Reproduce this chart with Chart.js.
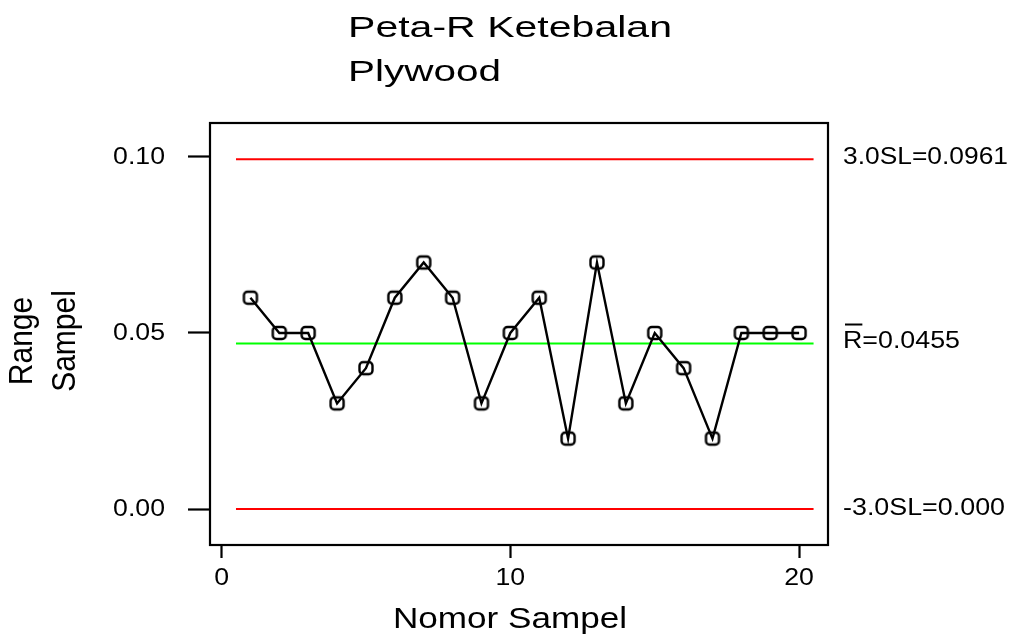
<!DOCTYPE html>
<html>
<head>
<meta charset="utf-8">
<script src="https://cdn.jsdelivr.net/npm/chart.js@4"></script>
<style>
  body { margin: 0; background: #fff; }
  canvas { display: block; }
</style>
</head>
<body>
<canvas id="rChart" width="1015" height="637"></canvas>
<script>
// data
const sampleNo = [1, 2, 3, 4, 5, 6, 7, 8, 9, 10, 11, 12, 13, 14, 15, 16, 17, 18, 19, 20];
const rangeValues = [0.06, 0.05, 0.05, 0.03, 0.04, 0.06, 0.07, 0.06, 0.03, 0.05,
                     0.06, 0.02, 0.07, 0.03, 0.05, 0.04, 0.02, 0.05, 0.05, 0.05];
const xTicks = [0, 10, 20];
const yTicks = [0, 0.05, 0.10];
const limitSpan = [0.5, 20.5];
const uclValue = 0.0993;
const centerValue = 0.047;
const lclValue = 0;
const titleLines = ['Peta-R Ketebalan', 'Plywood'];
const xTitle = 'Nomor Sampel';
const yTitle = ['Range', 'Sampel'];
const uclLabel = '3.0SL=0.0961';
const centerLabel = 'R=0.0455';
const lclLabel = '-3.0SL=0.000';

const FONT = '"Liberation Sans", Arial, Helvetica, sans-serif';
Chart.defaults.color = '#000';
Chart.defaults.font.family = FONT;

// rounded square marker, hollow
const marker = document.createElement('canvas');
marker.width = 18; marker.height = 18;
(function () {
    const m = marker.getContext('2d');
    m.strokeStyle = '#000';
    m.lineWidth = 2.4;
    m.beginPath();
    m.roundRect(2.5, 3, 13, 12, 3.5);
    m.stroke();
})();

function limitLine(v) {
    return limitSpan.map(x => ({ x: x, y: v }));
}

// the lettering in the picture is wider than the font, so scale it sideways
const WIDE = 1.16;
function wideText(ctx, text, x, y, size, width, align, baseline) {
    ctx.save();
    ctx.font = size + 'px ' + FONT;
    ctx.textAlign = align || 'left';
    ctx.textBaseline = baseline || 'alphabetic';
    const w = ctx.measureText(text).width;
    const sx = width ? width / w : WIDE;
    ctx.translate(x, y);
    ctx.scale(sx, 1);
    ctx.fillStyle = '#000';
    ctx.fillText(text, 0, 0);
    ctx.restore();
    return w * sx;
}

const decorations = {
    id: 'decorations',
    afterDraw(chart) {
        const ctx = chart.ctx;
        const a = chart.chartArea;
        const xs = chart.scales.x;
        const ys = chart.scales.y;

        // box
        ctx.save();
        ctx.strokeStyle = '#000';
        ctx.lineWidth = 2.2;
        ctx.strokeRect(a.left, a.top, a.right - a.left, a.bottom - a.top);
        ctx.restore();

        // tick labels, placed by the scales
        ys.ticks.forEach(t => {
            wideText(ctx, t.value.toFixed(2), 165, ys.getPixelForValue(t.value) + 1, 23, null, 'right', 'middle');
        });
        xs.ticks.forEach(t => {
            wideText(ctx, String(t.value), xs.getPixelForValue(t.value), 579, 23, null, 'center', 'middle');
        });

        // title
        wideText(ctx, titleLines[0], 348, 37, 30, 324);
        wideText(ctx, titleLines[1], 348, 81, 30, 153);

        // axis titles
        wideText(ctx, xTitle, 510, 628, 30, 234, 'center');
        [[yTitle[0], 32], [yTitle[1], 75]].forEach(([txt, bx]) => {
            ctx.save();
            ctx.font = '30px ' + FONT;
            ctx.fillStyle = '#000';
            ctx.textAlign = 'center';
            ctx.textBaseline = 'alphabetic';
            ctx.translate(bx, 341);
            ctx.rotate(-Math.PI / 2);
            ctx.scale(1, 1.1);
            ctx.fillText(txt, 0, 0);
            ctx.restore();
        });

        // limit labels on the right
        const lx = a.right + 15;
        wideText(ctx, uclLabel, lx, ys.getPixelForValue(uclValue) - 2, 23, 165, 'left', 'middle');
        const cy = ys.getPixelForValue(centerValue) - 2;
        wideText(ctx, centerLabel, lx, cy, 23, 117, 'left', 'middle');
        ctx.save();
        ctx.font = '23px ' + FONT;
        const rw = ctx.measureText('R').width * (117 / ctx.measureText(centerLabel).width);
        ctx.strokeStyle = '#000';
        ctx.lineWidth = 2;
        ctx.beginPath();
        ctx.moveTo(lx + 2, cy - 17);
        ctx.lineTo(lx + rw, cy - 17);
        ctx.stroke();
        ctx.restore();
        wideText(ctx, lclLabel, lx, ys.getPixelForValue(lclValue), 23, 162, 'left', 'middle');
    }
};

const chart = new Chart(document.getElementById('rChart').getContext('2d'), {
    type: 'scatter',
    data: {
        datasets: [
            {
                label: 'Range',
                data: sampleNo.map((n, i) => ({ x: n, y: rangeValues[i] })),
                showLine: true,
                borderColor: '#000',
                borderWidth: 2.4,
                pointStyle: marker,
                pointRadius: 7,
                tension: 0,
            },
            {
                label: 'R bar',
                data: limitLine(centerValue),
                showLine: true,
                borderColor: '#00ff00',
                borderWidth: 2,
                pointRadius: 0,
            },
            {
                label: 'UCL',
                data: limitLine(uclValue),
                showLine: true,
                borderColor: '#ff0000',
                borderWidth: 2,
                pointRadius: 0,
            },
            {
                label: 'LCL',
                data: limitLine(lclValue),
                showLine: true,
                borderColor: '#ff0000',
                borderWidth: 2,
                pointRadius: 0,
            },
        ],
    },
    options: {
        responsive: false,
        animation: false,
        devicePixelRatio: 1,
        layout: { padding: { top: 123, right: 187, left: 0, bottom: 0 } },
        plugins: {
            legend: { display: false },
            tooltip: { enabled: false },
            title: { display: false },
        },
        scales: {
            x: {
                type: 'linear',
                min: -0.4,
                max: 21,
                afterBuildTicks: s => { s.ticks = xTicks.map(v => ({ value: v })); },
                afterFit: s => { s.height = 92; },
                border: { display: false },
                grid: { drawOnChartArea: false, drawTicks: true, tickLength: 13, tickWidth: 2.2, tickColor: '#000' },
                ticks: { display: false },
            },
            y: {
                type: 'linear',
                min: -0.0102,
                max: 0.1096,
                afterBuildTicks: s => { s.ticks = yTicks.map(v => ({ value: v })); },
                afterFit: s => { s.width = 210; },
                border: { display: false },
                grid: { drawOnChartArea: false, drawTicks: true, tickLength: 22, tickWidth: 2.2, tickColor: '#000' },
                ticks: { display: false },
            },
        },
    },
    plugins: [decorations],
});
</script>
</body>
</html>
